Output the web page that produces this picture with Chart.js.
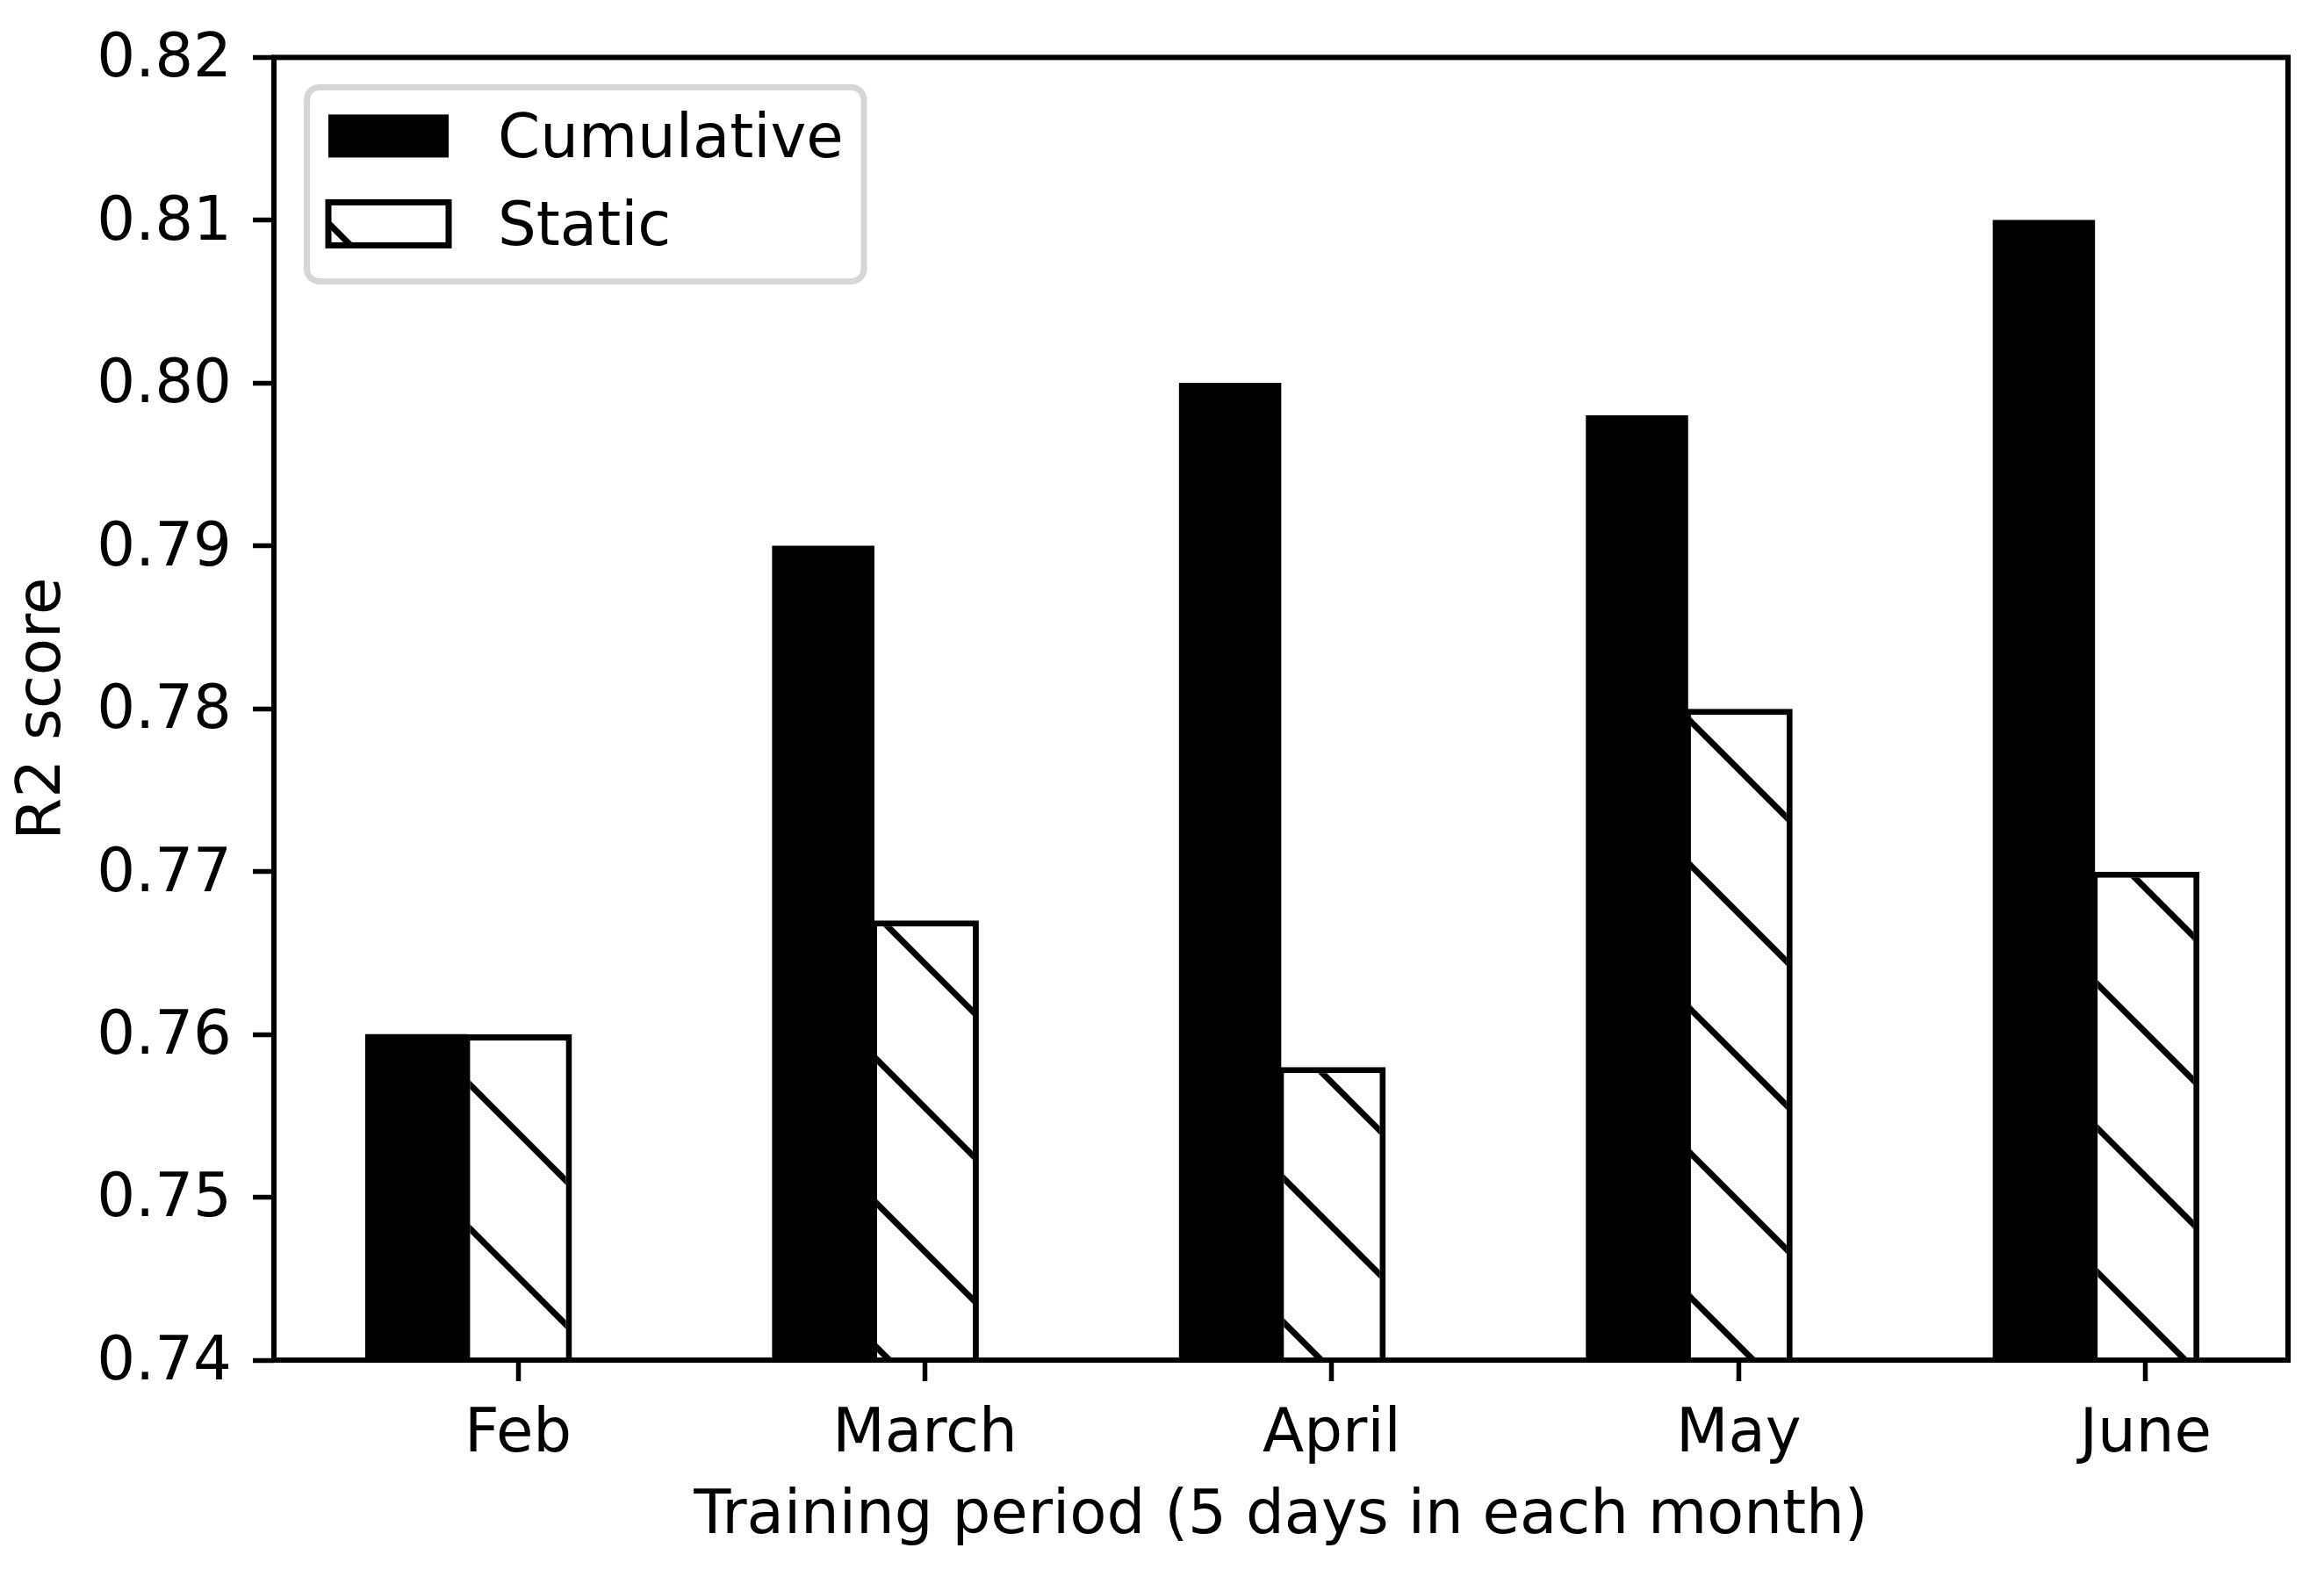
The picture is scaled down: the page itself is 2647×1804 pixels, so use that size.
<!DOCTYPE html>
<html>
<head>
<meta charset="utf-8">
<script src="https://cdn.jsdelivr.net/npm/chart.js@4.4.1/dist/chart.umd.min.js"></script>
<style>
  html, body { margin: 0; padding: 0; background: #ffffff; }
  #wrap { position: relative; width: 2647px; height: 1804px; }
</style>
</head>
<body>
<div id="wrap"><canvas id="c"></canvas></div>
<script>
// ---- data ----
const categories = ['Feb', 'March', 'April', 'May', 'June'];
const cumulativeValues = [0.760, 0.790, 0.800, 0.798, 0.810];
const staticValues = [0.760, 0.767, 0.758, 0.780, 0.770];
const yTickValues = [0.74, 0.75, 0.76, 0.77, 0.78, 0.79, 0.80, 0.81, 0.82];
const seriesNames = ['Cumulative', 'Static'];
const xAxisTitle = 'Training period (5 days in each month)';
const yAxisTitle = 'R2 score';

// ---- layout / style constants ----
const BAR_W = 0.25;           // bar width in category units
const X_MIN = -0.35, X_MAX = 4.6;
const FONT = 'DejaVu Sans';
const FS = 69;
const HATCH_PERIOD = 164;
const HATCH_OFFSET = 44;

function makeHatch() {
  const P = HATCH_PERIOD, c = HATCH_OFFSET;
  const cv = document.createElement('canvas');
  cv.width = P; cv.height = P;
  const g = cv.getContext('2d');
  g.fillStyle = '#ffffff';
  g.fillRect(0, 0, P, P);
  g.strokeStyle = '#000000';
  g.lineWidth = 7;
  for (let k = -2; k <= 1; k++) {
    g.beginPath();
    g.moveTo(-30, -30 + c + k * P);
    g.lineTo(P + 30, P + 30 + c + k * P);
    g.stroke();
  }
  return g.createPattern(cv, 'repeat');
}
const hatch = makeHatch();

const framePlugin = {
  id: 'frame',
  afterDatasetsDraw(chart) {
    const { ctx, chartArea: a } = chart;
    ctx.save();
    ctx.strokeStyle = '#000';
    ctx.lineWidth = 6;
    ctx.lineJoin = 'miter';
    ctx.strokeRect(a.left, a.top, a.right - a.left, a.bottom - a.top);
    ctx.restore();
  }
};

const legendPlugin = {
  id: 'customLegend',
  afterDraw(chart) {
    const { ctx, chartArea: a } = chart;
    ctx.save();
    const bx = a.left + 37.5, by = a.top + 34, bw = 634.5, bh = 221;
    ctx.beginPath();
    ctx.roundRect(bx, by, bw, bh, 14);
    ctx.fillStyle = 'rgba(255,255,255,0.8)';
    ctx.fill();
    ctx.strokeStyle = '#d6d6d6';
    ctx.lineWidth = 7;
    ctx.stroke();

    const hx = a.left + 62, hw = 137, hh = 49;
    const rows = [a.top + 89.5, a.top + 189.5];
    ctx.fillStyle = '#000';
    ctx.fillRect(hx, rows[0] - hh / 2, hw, hh);
    ctx.fillStyle = hatch;
    ctx.fillRect(hx, rows[1] - hh / 2, hw, hh);
    ctx.strokeStyle = '#000';
    ctx.lineWidth = 7;
    ctx.strokeRect(hx, rows[1] - hh / 2, hw, hh);

    ctx.fillStyle = '#000';
    ctx.font = FS + 'px "' + FONT + '"';
    ctx.textAlign = 'left';
    ctx.textBaseline = 'alphabetic';
    seriesNames.forEach((n, i) => ctx.fillText(n, a.left + 255, rows[i] + 24.5));
    ctx.restore();
  }
};

Chart.defaults.font.family = FONT;
Chart.defaults.color = '#000';

new Chart(document.getElementById('c'), {
  type: 'bar',
  data: {
    datasets: [
      {
        label: seriesNames[0],
        data: cumulativeValues.map((v, i) => ({ x: i, y: v })),
        backgroundColor: '#000000',
        borderWidth: 0,
        barPercentage: 1,
        categoryPercentage: 1,
        grouped: false,
        order: 1
      },
      {
        label: seriesNames[1],
        data: staticValues.map((v, i) => ({ x: i + BAR_W, y: v })),
        backgroundColor: hatch,
        borderColor: '#000000',
        borderWidth: 7,
        barPercentage: 1.06,
        categoryPercentage: 1,
        grouped: false,
        order: 0
      }
    ]
  },
  options: {
    responsive: true,
    maintainAspectRatio: false,
    animation: false,
    events: [],
    layout: { padding: { left: 0, right: 41, top: 61, bottom: 0 } },
    plugins: {
      legend: { display: false },
      tooltip: { enabled: false },
      title: { display: false }
    },
    scales: {
      x: {
        type: 'linear',
        min: X_MIN,
        max: X_MAX,
        offset: false,
        grid: {
          offset: false,
          display: true,
          drawOnChartArea: false,
          drawTicks: true,
          tickLength: 24,
          tickWidth: 5.5,
          tickColor: '#000'
        },
        border: { display: false },
        afterBuildTicks(scale) {
          scale.ticks = categories.map((_, i) => ({ value: i + BAR_W }));
        },
        afterFit(scale) { scale.height = 255; },
        ticks: {
          autoSkip: false,
          maxRotation: 0,
          minRotation: 0,
          padding: 21,
          color: '#000',
          font: { size: FS, family: FONT },
          callback: (v, i) => categories[i]
        },
        title: {
          display: true,
          text: xAxisTitle,
          color: '#000',
          font: { size: FS, family: FONT },
          padding: { top: 0, bottom: 35 }
        }
      },
      y: {
        type: 'linear',
        min: 0.74,
        max: 0.82,
        beginAtZero: false,
        grid: {
          display: true,
          drawOnChartArea: false,
          drawTicks: true,
          tickLength: 24,
          tickWidth: 5.5,
          tickColor: '#000'
        },
        border: { display: false },
        afterBuildTicks(scale) {
          scale.ticks = yTickValues.map(v => ({ value: v }));
        },
        afterFit(scale) { scale.width = 312; },
        ticks: {
          padding: 24,
          labelOffset: 4,
          color: '#000',
          font: { size: FS, family: FONT },
          callback: v => Number(v).toFixed(2)
        },
        title: {
          display: true,
          text: yAxisTitle,
          color: '#000',
          font: { size: FS, family: FONT },
          padding: { top: 8.6, bottom: 0 }
        }
      }
    }
  },
  plugins: [framePlugin, legendPlugin]
});
</script>
</body>
</html>
